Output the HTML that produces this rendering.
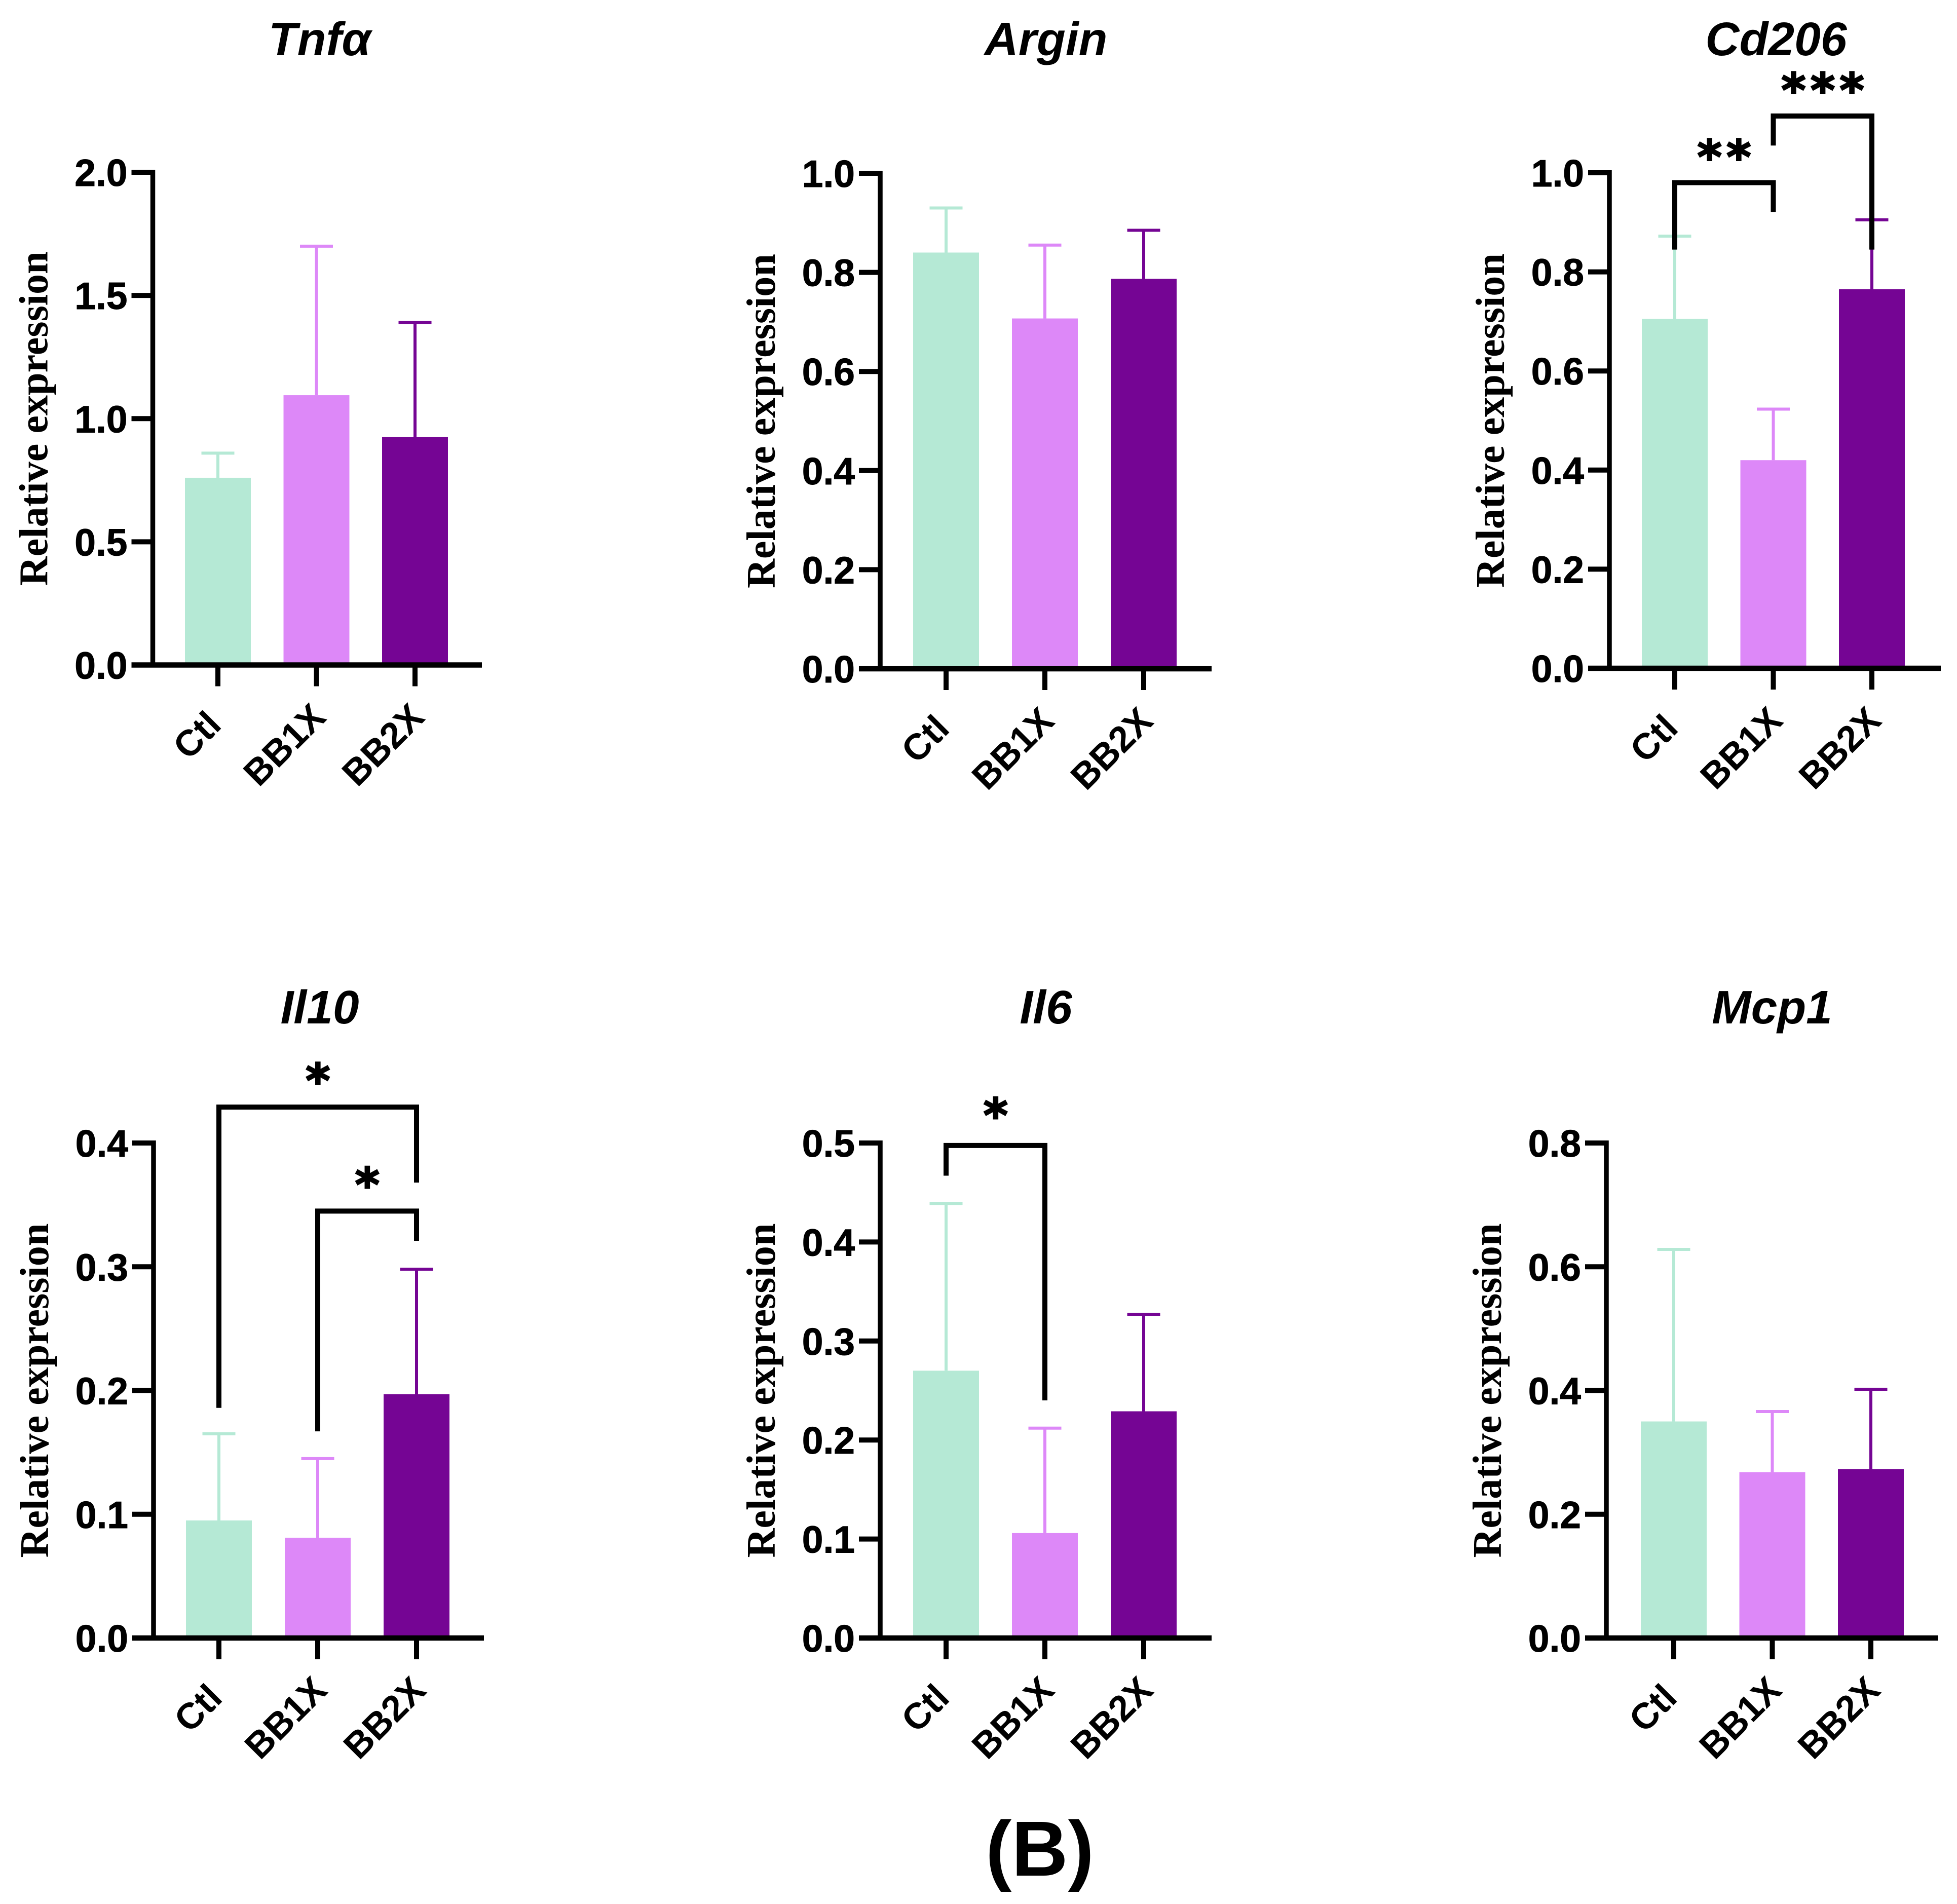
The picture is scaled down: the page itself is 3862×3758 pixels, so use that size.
<!DOCTYPE html>
<html lang="en">
<head>
<meta charset="utf-8">
<title>Relative expression bar charts</title>
<style>
html,body{margin:0;padding:0;background:#fff;}
svg{display:block;}
</style>
</head>
<body>
<svg id="figure" xmlns="http://www.w3.org/2000/svg" width="3862" height="3758" viewBox="0 0 3862 3758">
<rect width="3862" height="3758" fill="#ffffff"/>
<text x="2052" y="3702" text-anchor="middle" font-family="'Liberation Sans',sans-serif" font-weight="700" font-size="154">(B)</text>
</svg>
<script>
const categories = ['Ctl', 'BB1X', 'BB2X'];
const barColors = ['#b5e9d5', '#dd88f8', '#750594'];

const tnfaMeans = [0.76, 1.095, 0.925];
const tnfaErrorTops = [0.86, 1.70, 1.39];
const tnfaTicks = ['0.0', '0.5', '1.0', '1.5', '2.0'];

const arginMeans = [0.84, 0.707, 0.787];
const arginErrorTops = [0.93, 0.855, 0.885];
const arginTicks = ['0.0', '0.2', '0.4', '0.6', '0.8', '1.0'];

const cd206Means = [0.705, 0.42, 0.765];
const cd206ErrorTops = [0.872, 0.523, 0.905];
const cd206Ticks = ['0.0', '0.2', '0.4', '0.6', '0.8', '1.0'];

const il10Means = [0.095, 0.081, 0.197];
const il10ErrorTops = [0.165, 0.145, 0.298];
const il10Ticks = ['0.0', '0.1', '0.2', '0.3', '0.4'];

const il6Means = [0.27, 0.106, 0.229];
const il6ErrorTops = [0.439, 0.212, 0.327];
const il6Ticks = ['0.0', '0.1', '0.2', '0.3', '0.4', '0.5'];

const mcp1Means = [0.35, 0.268, 0.273];
const mcp1ErrorTops = [0.628, 0.366, 0.402];
const mcp1Ticks = ['0.0', '0.2', '0.4', '0.6', '0.8'];

const cd206Brackets = [
  {from: 0, to: 1, top: 0.98, leftEnd: 0.845, rightEnd: 0.921, mark: '**', markAt: 1.046},
  {from: 1, to: 2, top: 1.1145, leftEnd: 1.055, rightEnd: 0.845, mark: '***', markAt: 1.181}
];
const il10Brackets = [
  {from: 0, to: 2, top: 0.429, leftEnd: 0.186, rightEnd: 0.368, mark: '*', markAt: 0.456},
  {from: 1, to: 2, top: 0.345, leftEnd: 0.167, rightEnd: 0.321, mark: '*', markAt: 0.372}
];
const il6Brackets = [
  {from: 0, to: 1, top: 0.4975, leftEnd: 0.467, rightEnd: 0.24, mark: '*', markAt: 0.535}
];

const SVG_NS = 'http://www.w3.org/2000/svg';
const SANS = "'Liberation Sans',sans-serif";
const SERIF = "'Liberation Serif',serif";
const STAR = "'DejaVu Sans',sans-serif";
const labelShiftX = [-12, 0, 0];
const labelShiftY = [40, 25, 25];
const figure = document.getElementById('figure');

function make(parent, tag, attrs, text) {
  const el = document.createElementNS(SVG_NS, tag);
  for (const k in attrs) el.setAttribute(k, attrs[k]);
  if (text !== undefined) el.textContent = text;
  parent.appendChild(el);
  return el;
}

function drawPanel(p) {
  const g = make(figure, 'g', {});
  
  

  const yMax = parseFloat(p.ticks[p.ticks.length - 1]);
  const yScale = v => p.base - (v / yMax) * (p.base - p.top);
  const xScale = i => p.first + i * p.step;

  const title = make(g, 'text', {x: p.titleX, y: p.titleY, 'text-anchor': 'middle', 'font-family': SANS, 'font-weight': 700, 'font-style': 'italic', 'font-size': 93}, p.title);
  
  

  const yTitle = make(g, 'text', {
    transform: 'translate(' + (p.axis - 208) + ',' + ((p.top + p.base) / 2) + ') rotate(-90)',
    'text-anchor': 'middle', 'font-family': SERIF, 'font-weight': 700, 'font-size': 80,
    textLength: 660, lengthAdjust: 'spacingAndGlyphs'
  }, 'Relative expression');
  
  

  categories.forEach((c, i) => {
    const cx = xScale(i);
    const bar = make(g, 'rect', {x: cx - 65, y: yScale(p.means[i]), width: 130, height: p.base - yScale(p.means[i]), fill: barColors[i]});
    
    

    const err = make(g, 'path', {
      d: 'M' + cx + ' ' + yScale(p.means[i]) + 'V' + yScale(p.tops[i]) + 'M' + (cx - 32.5) + ' ' + yScale(p.tops[i]) + 'H' + (cx + 32.5),
      stroke: barColors[i], 'stroke-width': 6, fill: 'none'
    });
    
    
  });

  const yAxis = make(g, 'path', {d: 'M' + p.axis + ' ' + (p.top - 5) + 'V' + (p.base + 5), stroke: '#000', 'stroke-width': 9.5, fill: 'none'});
  
  

  const xAxis = make(g, 'path', {d: 'M' + (p.axis - 42) + ' ' + p.base + 'H' + p.end, stroke: '#000', 'stroke-width': 10.5, fill: 'none'});
  
  

  p.ticks.forEach(t => {
    const y = yScale(parseFloat(t));
    const tick = make(g, 'path', {d: 'M' + (p.axis - 42) + ' ' + y + 'H' + p.axis, stroke: '#000', 'stroke-width': 10, fill: 'none'});
    
    

    const label = make(g, 'text', {x: p.axis - 50, y: y + 27, 'text-anchor': 'end', 'font-family': SANS, 'font-weight': 700, 'font-size': 75, stroke: '#000', 'stroke-width': 1}, t);
    
    
  });

  categories.forEach((c, i) => {
    const cx = xScale(i);
    const tick = make(g, 'path', {d: 'M' + cx + ' ' + p.base + 'V' + (p.base + 42), stroke: '#000', 'stroke-width': 10, fill: 'none'});
    
    

    const label = make(g, 'text', {
      transform: 'translate(' + (cx + 22 + labelShiftX[i]) + ',' + (p.base + 82 + labelShiftY[i]) + ') rotate(-45)',
      'text-anchor': 'end', 'font-family': SANS, 'font-weight': 700, 'font-size': 72
    }, c);
    
    
  });

  p.brackets.forEach(b => {
    const x1 = xScale(b.from);
    const x2 = xScale(b.to);
    const line = make(g, 'path', {
      d: 'M' + x1 + ' ' + yScale(b.leftEnd) + 'V' + yScale(b.top) + 'H' + x2 + 'V' + yScale(b.rightEnd),
      stroke: '#000', 'stroke-width': 10, fill: 'none'
    });
    
    

    const mark = make(g, 'text', {x: (x1 + x2) / 2 + 5, y: yScale(b.markAt) + 46, 'text-anchor': 'middle', 'font-family': STAR, 'font-weight': 700, 'font-size': 92, 'letter-spacing': 9.5, stroke: '#000', 'stroke-width': 3}, b.mark);
    
    
  });
}

drawPanel({key: 'tnfa', title: 'Tnf\u03B1', titleX: 631, titleY: 109, axis: 301.5, top: 340, base: 1312.5, first: 430, step: 194.5, end: 951, means: tnfaMeans, tops: tnfaErrorTops, ticks: tnfaTicks, brackets: []});
drawPanel({key: 'argin', title: 'Argin', titleX: 2064, titleY: 109, axis: 1737, top: 342, base: 1320, first: 1867, step: 195, end: 2391, means: arginMeans, tops: arginErrorTops, ticks: arginTicks, brackets: []});
drawPanel({key: 'cd206', title: 'Cd206', titleX: 3505, titleY: 109, axis: 3176, top: 341, base: 1319, first: 3305, step: 194.5, end: 3830, means: cd206Means, tops: cd206ErrorTops, ticks: cd206Ticks, brackets: cd206Brackets});
drawPanel({key: 'il10', title: 'Il10', titleX: 631, titleY: 2020, axis: 303, top: 2256, base: 3233, first: 432, step: 195, end: 955, means: il10Means, tops: il10ErrorTops, ticks: il10Ticks, brackets: il10Brackets});
drawPanel({key: 'il6', title: 'Il6', titleX: 2064, titleY: 2020, axis: 1737, top: 2256, base: 3233, first: 1867, step: 195, end: 2391, means: il6Means, tops: il6ErrorTops, ticks: il6Ticks, brackets: il6Brackets});
drawPanel({key: 'mcp1', title: 'Mcp1', titleX: 3497, titleY: 2020, axis: 3170, top: 2256, base: 3233, first: 3303, step: 194.5, end: 3825, means: mcp1Means, tops: mcp1ErrorTops, ticks: mcp1Ticks, brackets: []});
</script>
</body>
</html>
